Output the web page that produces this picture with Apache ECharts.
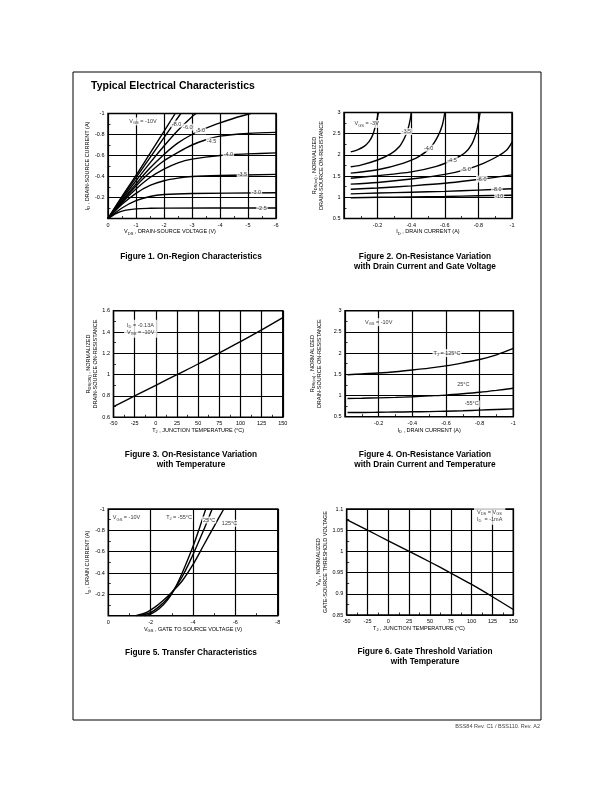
<!DOCTYPE html>
<html>
<head>
<meta charset="utf-8">
<script src="https://cdn.jsdelivr.net/npm/echarts@6/dist/echarts.min.js"></script>
<style>
  html, body { margin: 0; padding: 0; background: #fff; }
  #page { width: 612px; height: 792px; }
</style>
</head>
<body>
<div id="page"></div>
<script>
  // ---------- data ----------

  // Figure 1 : I_D (A) vs V_DS (V), one curve per V_GS
  var fig1Vgs10 = [[0, 0], [-0.5, -0.21], [-1, -0.41], [-1.5, -0.62], [-2, -0.83], [-2.4, -1]];
  var fig1Vgs8 = [[0, 0], [-0.5, -0.2], [-1, -0.39], [-1.5, -0.58], [-2, -0.77], [-2.6, -1]];
  var fig1Vgs6 = [[0, 0], [-0.5, -0.185], [-1, -0.36], [-1.5, -0.53], [-2, -0.69], [-2.5, -0.84], [-3, -0.97], [-3.15, -1]];
  var fig1Vgs5 = [[0, 0], [-0.5, -0.17], [-1, -0.33], [-1.5, -0.48], [-2, -0.61], [-2.5, -0.72], [-3, -0.8], [-3.5, -0.86], [-4, -0.91], [-4.5, -0.955], [-5.1, -1]];
  var fig1Vgs45 = [[0, 0], [-0.5, -0.16], [-1, -0.31], [-1.5, -0.44], [-2, -0.55], [-2.5, -0.63], [-3, -0.7], [-3.5, -0.75], [-4, -0.785], [-5, -0.81], [-6, -0.82]];
  var fig1Vgs4 = [[0, 0], [-0.5, -0.15], [-1, -0.28], [-1.5, -0.39], [-2, -0.47], [-2.5, -0.53], [-3, -0.565], [-4, -0.6], [-5, -0.615], [-6, -0.625]];
  var fig1Vgs35 = [[0, 0], [-0.5, -0.135], [-1, -0.24], [-1.5, -0.315], [-2, -0.36], [-2.5, -0.385], [-3, -0.4], [-4, -0.41], [-6, -0.42]];
  var fig1Vgs3 = [[0, 0], [-0.5, -0.1], [-1, -0.17], [-1.5, -0.21], [-2, -0.228], [-3, -0.238], [-6, -0.245]];
  var fig1Vgs25 = [[0, 0], [-0.3, -0.05], [-0.6, -0.078], [-1, -0.092], [-1.5, -0.097], [-2, -0.099], [-6, -0.1]];
  var fig1Labels = [
    [-1.25, -0.925, '{v|V}{s|GS}{v| = -10V}'],
    [-2.45, -0.9, '-8.0'], [-2.85, -0.87, '-6.0'], [-3.3, -0.835, '-5.0'],
    [-3.7, -0.735, '-4.5'], [-4.3, -0.61, '-4.0'], [-4.8, -0.42, '-3.5'],
    [-5.3, -0.245, '-3.0'], [-5.5, -0.1, '-2.5']
  ];

  // Figure 2 : normalized R_DS(on) vs I_D (A), one curve per V_GS
  var fig2Vgs3 = [[-0.04, 2.07], [-0.08, 2.12], [-0.12, 2.2], [-0.15, 2.32], [-0.17, 2.46], [-0.185, 2.65], [-0.197, 2.85], [-0.205, 3]];
  var fig2Vgs35 = [[-0.04, 1.72], [-0.1, 1.76], [-0.2, 1.88], [-0.28, 2.03], [-0.33, 2.2], [-0.36, 2.4], [-0.38, 2.6], [-0.395, 2.85], [-0.4, 3]];
  var fig2Vgs4 = [[-0.04, 1.57], [-0.2, 1.65], [-0.35, 1.8], [-0.45, 1.97], [-0.52, 2.2], [-0.56, 2.45], [-0.585, 2.7], [-0.6, 3]];
  var fig2Vgs45 = [[-0.04, 1.45], [-0.2, 1.51], [-0.4, 1.6], [-0.55, 1.73], [-0.65, 1.89], [-0.72, 2.05], [-0.76, 2.25], [-0.785, 2.5], [-0.8, 2.75], [-0.81, 3]];
  var fig2Vgs5 = [[-0.04, 1.31], [-0.2, 1.35], [-0.4, 1.43], [-0.6, 1.54], [-0.73, 1.66], [-0.83, 1.8], [-0.92, 1.98], [-0.97, 2.12], [-1, 2.3]];
  var fig2Vgs6 = [[-0.04, 1.19], [-0.2, 1.22], [-0.4, 1.27], [-0.6, 1.33], [-0.8, 1.42], [-0.9, 1.47], [-1, 1.53]];
  var fig2Vgs8 = [[-0.04, 1.08], [-0.2, 1.1], [-0.4, 1.12], [-0.6, 1.14], [-0.8, 1.17], [-1, 1.2]];
  var fig2Vgs10 = [[-0.04, 0.99], [-0.2, 1.0], [-0.4, 1.01], [-0.6, 1.02], [-0.8, 1.035], [-1, 1.05]];
  var fig2Labels = [
    [-0.135, 2.73, '{v|V}{s|GS}{v| = -3V}'],
    [-0.371, 2.55, '-3.5'], [-0.504, 2.16, '-4.0'], [-0.643, 1.88, '-4.5'],
    [-0.726, 1.66, '-5.0'], [-0.82, 1.43, '-6.0'], [-0.91, 1.19, '-8.0'], [-0.924, 1.03, '-10']
  ];

  // Figure 3 : normalized R_DS(on) vs T_J
  var fig3Temp = [-50, -25, 0, 25, 50, 75, 100, 125, 150];
  var fig3Rds = [0.70, 0.80, 0.90, 1.0, 1.10, 1.205, 1.31, 1.42, 1.535];
  var fig3Note = [[-37.6, 1.43, '{v|I}{s|D}{v| = -0.13A}\n{v|V}{s|GS}{v| = -10V}']];

  // Figure 4 : normalized R_DS(on) vs I_D at three temperatures
  var fig4Current = [-0.015, -0.1, -0.2, -0.3, -0.4, -0.5, -0.6, -0.7, -0.8, -0.9, -1];
  var fig4T125 = [1.49, 1.51, 1.53, 1.56, 1.6, 1.645, 1.7, 1.77, 1.85, 1.96, 2.11];
  var fig4T25 = [0.93, 0.935, 0.945, 0.955, 0.97, 0.99, 1.01, 1.04, 1.075, 1.12, 1.17];
  var fig4Tm55 = [0.6, 0.6, 0.605, 0.61, 0.615, 0.62, 0.63, 0.64, 0.655, 0.67, 0.685];
  var fig4Labels = [
    [-0.2, 2.73, '{v|V}{s|GS}{v| = -10V}'],
    [-0.606, 2.0, '{v|T}{s|J}{v| = 125°C}'],
    [-0.703, 1.26, '25°C'], [-0.753, 0.8, '-55°C']
  ];

  // Figure 5 : I_D vs V_GS at three temperatures
  var fig5Tm55 = [[-1.7, 0], [-2, -0.015], [-2.4, -0.065], [-2.8, -0.15], [-3.1, -0.24], [-3.4, -0.36], [-3.7, -0.5], [-4, -0.65], [-4.3, -0.82], [-4.6, -1]];
  var fig5T25 = [[-1.5, 0], [-2, -0.03], [-2.4, -0.085], [-2.8, -0.165], [-3.1, -0.245], [-3.5, -0.37], [-3.9, -0.53], [-4.3, -0.71], [-4.6, -0.85], [-4.9, -1]];
  var fig5T125 = [[-1.3, 0], [-1.8, -0.03], [-2.2, -0.08], [-2.6, -0.145], [-3, -0.22], [-3.5, -0.33], [-4, -0.48], [-4.5, -0.66], [-5, -0.84], [-5.45, -1]];
  var fig5Labels = [
    [-0.86, -0.916, '{v|V}{s|GS}{v| = -10V}'],
    [-3.34, -0.918, '{v|T}{s|J}{v| = -55°C}'],
    [-4.76, -0.897, '25°C'], [-5.72, -0.866, '125°C']
  ];

  // Figure 6 : normalized V_th vs T_J
  var fig6Temp = [-50, -25, 0, 25, 50, 75, 100, 125, 150];
  var fig6Vth = [1.075, 1.05, 1.025, 1.0, 0.975, 0.949, 0.922, 0.893, 0.863];
  var fig6Note = [[102.8, 1.084, '{v|V}{s|DS}{v| = V}{s|GS}\n{v|I}{s|D}{v|  = -1mA}']];

  // ---------- styling helpers ----------
  var FONT = '"Liberation Sans", Arial, Helvetica, sans-serif';
  var RICH = {
    v: {fontFamily: FONT, fontSize: 5.5, color: '#000', lineHeight: 7},
    s: {fontFamily: FONT, fontSize: 4, color: '#000', lineHeight: 4, verticalAlign: 'bottom'}
  };

  function fmtNum(v) {
    return String(parseFloat(v.toFixed(4)));
  }

  function axis(gi, min, max, step, opt) {
    opt = opt || {};
    return {
      type: 'value', gridIndex: gi,
      min: min, max: max, interval: step,
      inverse: !!opt.inverse,
      name: opt.name || '',
      nameLocation: 'middle',
      nameGap: opt.gap,
      nameTextStyle: {fontFamily: FONT, fontSize: 5.5, color: '#000', rich: RICH, padding: opt.namePad || 0},
      axisLine: {show: false, onZero: false},
      axisTick: {show: true, inside: true, length: 0},
      minorTick: {show: true, splitNumber: 2, length: 2.5, lineStyle: {color: '#000', width: 0.8}},
      splitLine: {show: true, lineStyle: {color: '#000', width: 1.2}},
      axisLabel: {
        fontFamily: FONT, fontSize: 5.5, color: '#000', margin: opt.margin || 3.5,
        formatter: function (v) {
          return (opt.hideZero && Math.abs(v) < 1e-9) ? '' : fmtNum(v);
        }
      }
    };
  }

  function curve(gi, data) {
    return {
      type: 'line', xAxisIndex: gi, yAxisIndex: gi, data: data,
      smooth: 0.3, symbol: 'none', silent: true, z: 3,
      lineStyle: {color: '#000', width: 1.4}
    };
  }

  function tags(gi, list, leftAlign) {
    return {
      type: 'scatter', xAxisIndex: gi, yAxisIndex: gi, silent: true, z: 6,
      symbolSize: 1, itemStyle: {color: 'rgba(0,0,0,0)'},
      data: list.map(function (l) { return {value: [l[0], l[1]], name: l[2]}; }),
      label: {
        show: true, position: 'inside', align: leftAlign ? 'left' : 'center',
        formatter: function (p) { return p.name; },
        backgroundColor: '#fff', padding: leftAlign ? [2, 3] : [0.5, 1],
        fontFamily: FONT, fontSize: 5.5, color: '#000', rich: RICH
      }
    };
  }

  function pairs(xs, ys) {
    return xs.map(function (x, i) { return [x, ys[i]]; });
  }

  function caption(x, y, text) {
    return {
      type: 'text', x: x, y: y, silent: true,
      style: {text: text, font: 'bold 8.3px ' + FONT, fill: '#000', align: 'center', verticalAlign: 'middle'}
    };
  }

  var RDS_NAME = '{v|R}{s|DS(on)}{v| , NORMALIZED}\n{v|DRAIN-SOURCE ON-RESISTANCE}';

  var chart = echarts.init(document.getElementById('page'));

  var option = {
    animation: false,
    backgroundColor: '#fff',
    grid: [
      {left: 108, top: 113.5, width: 168, height: 105},
      {left: 344, top: 112.5, width: 168, height: 106},
      {left: 113.5, top: 310.7, width: 169.3, height: 106.6},
      {left: 345, top: 310.7, width: 168.3, height: 106},
      {left: 108.3, top: 509, width: 169.5, height: 106.7},
      {left: 346.7, top: 509, width: 166.6, height: 106}
    ].map(function (g) {
      g.show = true; g.borderColor = '#000'; g.borderWidth = 1.5; g.containLabel = false;
      return g;
    }),
    xAxis: [
      axis(0, -6, 0, 1, {inverse: true, gap: 7, namePad: [0, 44, 0, 0],
        name: '{v|V}{s|DS}{v| , DRAIN-SOURCE VOLTAGE (V)}'}),
      axis(1, -1, 0, 0.2, {inverse: true, hideZero: true, gap: 9,
        name: '{v|I}{s|D}{v| , DRAIN CURRENT (A)}'}),
      axis(2, -50, 150, 25, {gap: 8,
        name: '{v|T}{s|J}{v| , JUNCTION TEMPERATURE (°C)}'}),
      axis(3, -1, 0, 0.2, {inverse: true, hideZero: true, gap: 9,
        name: '{v|I}{s|D}{v| , DRAIN CURRENT (A)}'}),
      axis(4, -8, 0, 2, {inverse: true, gap: 8,
        name: '{v|V}{s|GS}{v| , GATE TO SOURCE VOLTAGE (V)}'}),
      axis(5, -50, 150, 25, {gap: 6, namePad: [0, 22, 0, 0],
        name: '{v|T}{s|J}{v| , JUNCTION TEMPERATURE (°C)}'})
    ],
    yAxis: [
      axis(0, -1, 0, 0.2, {inverse: true, hideZero: true, gap: 13,
        name: '{v|I}{s|D}{v| , DRAIN-SOURCE CURRENT (A)}'}),
      axis(1, 0.5, 3, 0.5, {gap: 19, name: RDS_NAME}),
      axis(2, 0.6, 1.6, 0.2, {gap: 14,
        name: '{v|R}{s|DS(ON)}{v| , NORMALIZED}\n{v|DRAIN-SOURCE ON-RESISTANCE}'}),
      axis(3, 0.5, 3, 0.5, {gap: 22, name: RDS_NAME}),
      axis(4, -1, 0, 0.2, {inverse: true, hideZero: true, gap: 10,
        name: '{v|I}{s|D}{v| , DRAIN CURRENT (A)}'}),
      axis(5, 0.85, 1.1, 0.05, {gap: 17,
        name: '{v|V}{s|th}{v| , NORMALIZED}\n{v|GATE-SOURCE THRESHOLD VOLTAGE}'})
    ],
    series: [
      curve(0, fig1Vgs10), curve(0, fig1Vgs8), curve(0, fig1Vgs6), curve(0, fig1Vgs5),
      curve(0, fig1Vgs45), curve(0, fig1Vgs4), curve(0, fig1Vgs35), curve(0, fig1Vgs3), curve(0, fig1Vgs25),
      tags(0, fig1Labels),

      curve(1, fig2Vgs3), curve(1, fig2Vgs35), curve(1, fig2Vgs4), curve(1, fig2Vgs45),
      curve(1, fig2Vgs5), curve(1, fig2Vgs6), curve(1, fig2Vgs8), curve(1, fig2Vgs10),
      tags(1, fig2Labels),

      curve(2, pairs(fig3Temp, fig3Rds)),
      tags(2, fig3Note, true),

      curve(3, pairs(fig4Current, fig4T125)), curve(3, pairs(fig4Current, fig4T25)), curve(3, pairs(fig4Current, fig4Tm55)),
      tags(3, fig4Labels),

      curve(4, fig5Tm55), curve(4, fig5T25), curve(4, fig5T125),
      tags(4, fig5Labels),

      curve(5, pairs(fig6Temp, fig6Vth)),
      tags(5, fig6Note, true)
    ],
    graphic: [
      {type: 'rect', silent: true, shape: {x: 73, y: 72, width: 468, height: 648},
        style: {fill: 'none', stroke: '#000', lineWidth: 1}},
      {type: 'text', x: 91, y: 86, silent: true,
        style: {text: 'Typical Electrical Characteristics', font: 'bold 10.5px ' + FONT, fill: '#000', verticalAlign: 'middle'}},
      caption(191, 257, 'Figure 1. On-Region Characteristics'),
      caption(425, 257, 'Figure 2. On-Resistance Variation'),
      caption(425, 267, 'with Drain Current and Gate Voltage'),
      caption(191, 455, 'Figure 3. On-Resistance Variation'),
      caption(191, 465, 'with Temperature'),
      caption(425, 455, 'Figure 4. On-Resistance Variation'),
      caption(425, 465, 'with Drain Current and Temperature'),
      caption(191, 653, 'Figure 5. Transfer Characteristics'),
      caption(425, 652, 'Figure 6. Gate Threshold Variation'),
      caption(425, 662, 'with Temperature'),
      {type: 'text', x: 540, y: 726, silent: true,
        style: {text: 'BSS84 Rev. C1 / BSS110. Rev. A2', font: '5.5px ' + FONT, fill: '#444', align: 'right', verticalAlign: 'middle'}}
    ]
  };

  chart.setOption(option);
</script>
</body>
</html>
